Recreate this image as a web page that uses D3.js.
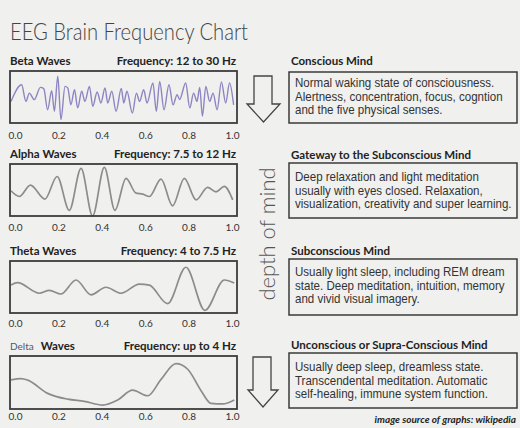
<!DOCTYPE html>
<html>
<head>
<meta charset="utf-8">
<script src="https://cdn.jsdelivr.net/npm/d3@7"></script>
<style>
  body { margin: 0; background: #f0f0ee; }
  svg { display: block; }
</style>
</head>
<body>
<svg id="chart"></svg>
<script>
// Data

const waveNames = ["Beta", "Alpha", "Theta", "Delta"]
const waveFreqs = ["Frequency: 12 to 30 Hz", "Frequency: 7.5 to 12 Hz", "Frequency: 4 to 7.5 Hz", "Frequency: up to 4 Hz"]
const tickValues = [0, 0.2, 0.4, 0.6, 0.8, 1.0]

// wave turning points: [time (s), amplitude -1..1]
const betaWave = [
  [0, -0.17], [0.047, 0.47], [0.066, -0.17], [0.081, 0.15], [0.103, -0.10], [0.130, 0.37],
  [0.145, 0.32], [0.162, -0.49], [0.180, 0.24], [0.192, -0.55], [0.207, 0.80], [0.221, -0.87],
  [0.239, 0.41], [0.251, 0.35], [0.265, -0.30], [0.281, 0.28], [0.295, -0.42], [0.313, 0.22],
  [0.327, -0.17], [0.347, 0.41], [0.362, -0.36], [0.381, 0.19], [0.398, -0.23], [0.416, 0.35],
  [0.428, -0.23], [0.446, 0.22], [0.465, -0.55], [0.488, 0.33], [0.499, -0.23], [0.513, 0.22],
  [0.537, -0.62], [0.555, 0.15], [0.569, -0.17], [0.587, 0.28], [0.602, -0.23], [0.628, 0.54],
  [0.643, -0.55], [0.658, 0.60], [0.677, -0.49], [0.699, 0.47], [0.717, -0.30], [0.735, 0.09],
  [0.746, -0.10], [0.773, 0.54], [0.791, -0.42], [0.808, 0.15], [0.823, -0.17], [0.835, 0.37],
  [0.847, -0.74], [0.862, 0.41], [0.879, -0.17], [0.894, 0.15], [0.912, -0.49], [0.931, 0.58],
  [0.950, -0.23], [0.967, 0.54], [0.985, -0.30]
]
const alphaWave = [
  [0, -0.03], [0.037, -0.25], [0.086, 0.19], [0.150, -0.35], [0.204, 0.52], [0.258, -0.78],
  [0.310, 0.83], [0.361, -1.0], [0.413, 0.87], [0.460, -0.78], [0.509, 0.45], [0.553, -0.12],
  [0.583, -0.16], [0.612, -0.25], [0.664, 0.42], [0.715, -0.61], [0.767, 0.45], [0.819, -0.38],
  [0.870, 0.10], [0.907, -0.07], [0.944, 0.14], [0.981, -0.38]
]
const thetaWave = [
  [0, 0.08], [0.029, 0.17], [0.125, -0.24], [0.170, -0.13], [0.221, -0.27], [0.288, 0.27],
  [0.354, -0.30], [0.420, -0.01], [0.487, -0.24], [0.568, 0.11], [0.612, 0.07], [0.693, -0.64],
  [0.774, 0.76], [0.858, -0.90], [0.944, 0.27], [0.988, 0.15]
]
const deltaWave = [
  [0, 0.10], [0.044, 0.15], [0.074, 0.09], [0.162, -0.41], [0.251, -0.63], [0.324, -0.71],
  [0.406, -0.85], [0.472, -0.66], [0.538, -0.29], [0.605, -0.50], [0.664, 0.12], [0.730, 0.71],
  [0.782, 0.50], [0.841, -0.31], [0.885, -0.79], [0.937, -0.81], [0.988, -0.66]
]
const waves = [betaWave, alphaWave, thetaWave, deltaWave]

const mindTitles = ["Conscious Mind", "Gateway to the Subconscious Mind", "Subconscious Mind", "Unconscious or Supra-Conscious Mind"]
const mindText = [
  ["Normal waking state of consciousness.", "Alertness, concentration, focus, cogntion", "and the five physical senses."],
  ["Deep relaxation and light meditation", "usually with eyes closed. Relaxation,", "visualization, creativity and super learning."],
  ["Usually light sleep, including REM dream", "state. Deep meditation, intuition, memory", "and vivid visual imagery."],
  ["Usually deep sleep, dreamless state.", "Transcendental meditation. Automatic", "self-healing, immune system function."]
]

// Layout

const W = 520, H = 428
const panelTop = [71, 164, 261, 356]
const panelH = [52, 52, 52, 53]
const tickBase = [139, 231, 327, 420]
const mindTop = [72, 163, 259, 353]
const mindH = [51, 55, 56, 55]
const mindFirst = [15, 18, 17, 18]
const headFont = "Lato, 'Open Sans', sans-serif"
const bodyFont = "'Liberation Sans', Arial, sans-serif"

const svg = d3.select("#chart").attr("width", W).attr("height", H)
svg.append("rect").attr("width", W).attr("height", H).attr("fill", "#f0f0ee")

svg.append("text")
  .attr("x", 10).attr("y", 40)
  .attr("font-family", headFont).attr("font-weight", 300)
  .attr("font-size", 23).attr("fill", "#444")
  .attr("textLength", 238).attr("lengthAdjust", "spacingAndGlyphs")
  .text("EEG Brain Frequency Chart")

const waveX = d3.scaleLinear().domain([0, 1]).range([11, 237])
const tickX = d3.scaleLinear().domain([0, 1]).range([15, 232])

waves.forEach((w, i) => {
  const top = panelTop[i], bot = top + panelH[i]
  const g = svg.append("g")

  // label
  const lab = g.append("text").attr("x", 10).attr("y", top - 6)
    .attr("font-family", headFont).attr("font-weight", 700)
    .attr("font-size", 11.5).attr("fill", "#222")
  if (i == 3) {
    lab.append("tspan").attr("font-weight", 400).attr("font-size", 10).attr("fill", "#4a5a78").text(waveNames[i])
    lab.append("tspan").attr("dx", 7).text("Waves")
  } else {
    lab.text(waveNames[i] + " Waves")
  }
  g.append("text").attr("x", 236).attr("y", top - 6)
    .attr("text-anchor", "end")
    .attr("font-family", headFont).attr("font-weight", 700)
    .attr("font-size", 11.5).attr("fill", "#222")
    .text(waveFreqs[i])

  const y = d3.scaleLinear().domain([-1, 1]).range([bot, top])
  const line = d3.line()
    .x(d => waveX(d[0]))
    .y(d => y(d[1]))
    .curve(d3.curveMonotoneX)

  g.append("path").datum(w)
    .attr("fill", "none")
    .attr("stroke", i == 0 ? "#8e84c2" : "#8c8c8c")
    .attr("stroke-width", i == 0 ? 1.4 : 1.7)
    .attr("stroke-linejoin", "round")
    .attr("d", line)

  g.append("rect")
    .attr("x", 10).attr("y", top)
    .attr("width", 227).attr("height", panelH[i])
    .attr("fill", "none").attr("stroke", "#3c3c3c").attr("stroke-width", 1.8)

  const ax = g.append("g")
    .attr("transform", `translate(0,${tickBase[i] - 7})`)
    .call(d3.axisBottom(tickX).tickValues(tickValues).tickSize(0).tickPadding(0).tickFormat(d3.format(".1f")))
  ax.select(".domain").remove()
  ax.selectAll("text")
    .attr("font-family", headFont).attr("font-size", 10).attr("fill", "#333")
})

// right side descriptions
mindTitles.forEach((t, i) => {
  const top = mindTop[i]
  const g = svg.append("g")
  g.append("text").attr("x", 291).attr("y", top - 7 + (i > 0 ? 3 : 0))
    .attr("font-family", headFont).attr("font-weight", 700)
    .attr("font-size", 11.5).attr("fill", "#222")
    .text(t)
  g.append("rect")
    .attr("x", 289).attr("y", top)
    .attr("width", 228).attr("height", mindH[i])
    .attr("fill", "none").attr("stroke", "#3a3a3a").attr("stroke-width", 1.5)
  // the body text is a slightly narrowed Arial in the source
  g.append("g").attr("transform", "translate(295,0) scale(0.93,1)")
    .selectAll("text").data(mindText[i]).join("text")
    .attr("x", 0)
    .attr("y", (d, k) => top + mindFirst[i] + k * 13.7)
    .attr("font-family", bodyFont).attr("font-size", 12.4).attr("fill", "#333")
    .text(d => d)
})

// arrows
function arrow(sl, sr, top, hy, hl, hr, tip) {
  const cx = (hl + hr) / 2
  svg.append("path")
    .attr("d", `M${sl},${top}L${sr},${top}L${sr},${hy}L${hr},${hy}L${cx},${tip}L${hl},${hy}L${sl},${hy}Z`)
    .attr("fill", "none").attr("stroke", "#444").attr("stroke-width", 1.3)
}
arrow(254, 272, 76, 104, 247, 280, 122)
arrow(253, 271, 357, 390, 248, 278, 407)

svg.append("text")
  .attr("transform", "translate(275,234) rotate(-90)")
  .attr("text-anchor", "middle")
  .attr("font-family", headFont).attr("font-weight", 300)
  .attr("font-size", 22).attr("fill", "#555")
  .text("depth of mind")

svg.append("text")
  .attr("x", 516).attr("y", 423)
  .attr("text-anchor", "end")
  .attr("font-family", headFont).attr("font-weight", 700).attr("font-style", "italic")
  .attr("font-size", 10).attr("fill", "#222")
  .text("image source of graphs: wikipedia")
</script>
</body>
</html>
